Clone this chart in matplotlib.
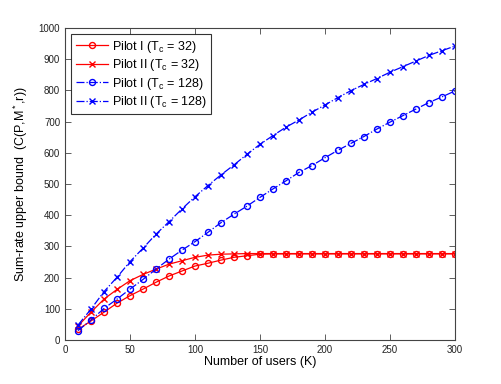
import numpy as np
import matplotlib
matplotlib.use('Agg')
import matplotlib.pyplot as plt

plt.rcParams['font.family'] = ['Liberation Sans', 'DejaVu Sans']
plt.rcParams['mathtext.fontset'] = 'custom'
plt.rcParams['mathtext.rm'] = 'Liberation Sans'
plt.rcParams['mathtext.it'] = 'Liberation Sans'

K = np.arange(10, 301, 10)

# Pilot I, Tc = 32
p1_32 = [34, 61, 89, 118, 142, 163, 185, 205, 221, 237,
         246, 256, 265, 270, 275, 276, 276, 276, 276, 276,
         276, 276, 276, 276, 276, 276, 276, 276, 276, 276]
# Pilot II, Tc = 32
p2_32 = [45, 89, 131, 162, 190, 210, 227, 243, 254, 265,
         272, 275, 276, 277, 277, 277, 277, 277, 277, 277,
         277, 277, 277, 277, 277, 277, 277, 277, 277, 277]
# Pilot I, Tc = 128
p1_128 = [30, 64, 101, 131, 163, 194, 227, 259, 288, 315,
          345, 376, 403, 429, 457, 484, 510, 537, 559, 584,
          608, 630, 652, 676, 698, 719, 740, 761, 779, 798]
# Pilot II, Tc = 128
p2_128 = [48, 99, 155, 201, 251, 294, 339, 379, 420, 459,
          495, 529, 561, 595, 627, 655, 682, 705, 730, 753,
          777, 799, 819, 838, 858, 876, 894, 912, 927, 942]

fig = plt.figure(figsize=(5.02, 3.84), dpi=100)
ax = fig.add_axes([0.1295, 0.1146, 0.7765, 0.8125])

ms = 4.3
ax.plot(K, p1_32, '-', color='red', marker='o', mfc='none', markersize=ms, lw=0.9,
        label='Pilot I (T$_c$ = 32)')
ax.plot(K, p2_32, '-', color='red', marker='x', markersize=ms, lw=0.9,
        label='Pilot II (T$_c$ = 32)')
ax.plot(K, p1_128, '-.', color='blue', marker='o', mfc='none', markersize=ms, lw=0.9,
        label='Pilot I (T$_c$ = 128)')
ax.plot(K, p2_128, '-.', color='blue', marker='x', markersize=ms, lw=0.9,
        label='Pilot II (T$_c$ = 128)')

ax.set_xlim(0, 300)
ax.set_ylim(0, 1000)
ax.set_xticks(range(0, 301, 50))
ax.set_yticks(range(0, 1001, 100))
ax.tick_params(direction='in', top=True, right=True, labelsize=7, length=4, width=0.6,
               color='#444444', labelcolor='#222222')
for s in ax.spines.values():
    s.set_linewidth(0.8)
    s.set_color('#444444')

ax.set_xlabel('Number of users (K)', fontsize=9, labelpad=1)
ax.set_ylabel('Sum-rate upper bound  (C(P,M$^*$,r))', fontsize=9, labelpad=6)

leg = ax.legend(loc='upper left', fontsize=9, frameon=True, fancybox=False,
                edgecolor='black', handlelength=2.6, handletextpad=0.3,
                labelspacing=0.2, borderpad=0.35, borderaxespad=0.5)
leg.get_frame().set_linewidth(0.8)

fig.savefig('out.png', dpi=100)
